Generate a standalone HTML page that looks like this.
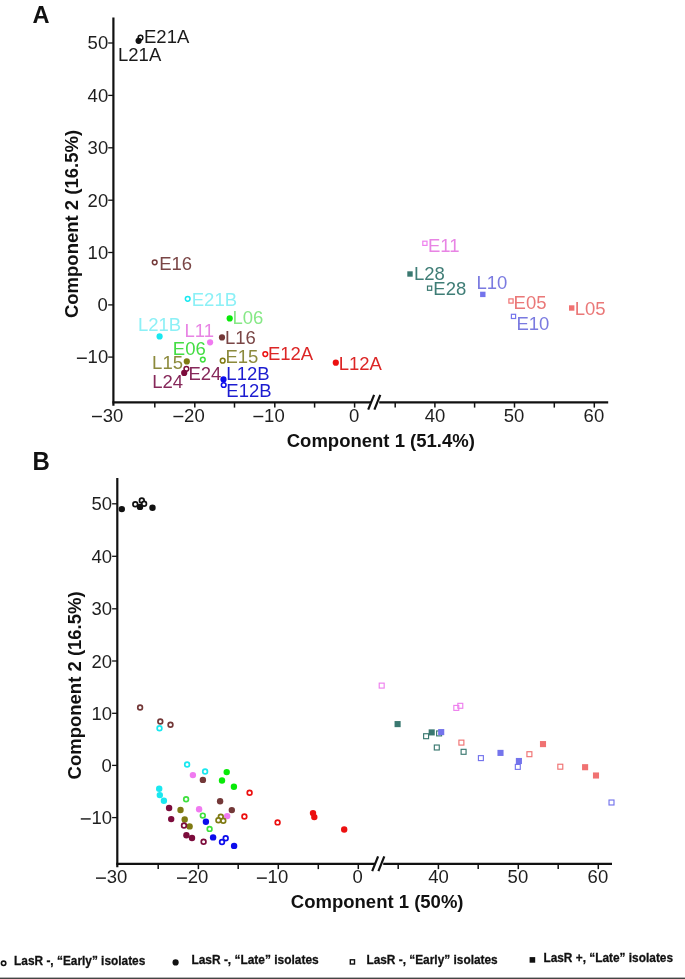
<!DOCTYPE html>
<html><head><meta charset="utf-8"><title>PCA</title>
<style>html,body{margin:0;padding:0;background:#fff;}svg{display:block;filter:blur(0.35px);}</style>
</head><body>
<svg width="685" height="979" viewBox="0 0 685 979" font-family='"Liberation Sans", sans-serif' font-size="18">
<rect width="685" height="979" fill="#fff"/>
<line x1="113.4" y1="17.5" x2="113.4" y2="405.8" stroke="#111111" stroke-width="2.2"/>
<line x1="112.4" y1="402.3" x2="371" y2="402.3" stroke="#111111" stroke-width="2.2"/>
<line x1="379.2" y1="402.3" x2="608.2" y2="402.3" stroke="#111111" stroke-width="2.2"/>
<line x1="368.2" y1="409.7" x2="374.1" y2="394.90000000000003" stroke="#111111" stroke-width="2.2"/>
<line x1="374.4" y1="409.7" x2="380.3" y2="394.90000000000003" stroke="#111111" stroke-width="2.2"/>
<line x1="154.8" y1="402.3" x2="154.8" y2="407.6" stroke="#111111" stroke-width="1.5"/>
<line x1="194.8" y1="402.3" x2="194.8" y2="407.6" stroke="#111111" stroke-width="1.5"/>
<line x1="234.5" y1="402.3" x2="234.5" y2="407.6" stroke="#111111" stroke-width="1.5"/>
<line x1="274.8" y1="402.3" x2="274.8" y2="407.6" stroke="#111111" stroke-width="1.5"/>
<line x1="314.6" y1="402.3" x2="314.6" y2="407.6" stroke="#111111" stroke-width="1.5"/>
<line x1="354.6" y1="402.3" x2="354.6" y2="407.6" stroke="#111111" stroke-width="1.5"/>
<line x1="395.2" y1="402.3" x2="395.2" y2="407.6" stroke="#111111" stroke-width="1.5"/>
<line x1="434.9" y1="402.3" x2="434.9" y2="407.6" stroke="#111111" stroke-width="1.5"/>
<line x1="474.6" y1="402.3" x2="474.6" y2="407.6" stroke="#111111" stroke-width="1.5"/>
<line x1="514.5" y1="402.3" x2="514.5" y2="407.6" stroke="#111111" stroke-width="1.5"/>
<line x1="554.3" y1="402.3" x2="554.3" y2="407.6" stroke="#111111" stroke-width="1.5"/>
<line x1="594.3" y1="402.3" x2="594.3" y2="407.6" stroke="#111111" stroke-width="1.5"/>
<line x1="108.2" y1="43.0" x2="113.4" y2="43.0" stroke="#111111" stroke-width="1.3"/>
<line x1="108.2" y1="95.4" x2="113.4" y2="95.4" stroke="#111111" stroke-width="1.3"/>
<line x1="108.2" y1="147.8" x2="113.4" y2="147.8" stroke="#111111" stroke-width="1.3"/>
<line x1="108.2" y1="200.2" x2="113.4" y2="200.2" stroke="#111111" stroke-width="1.3"/>
<line x1="108.2" y1="252.5" x2="113.4" y2="252.5" stroke="#111111" stroke-width="1.3"/>
<line x1="108.2" y1="304.9" x2="113.4" y2="304.9" stroke="#111111" stroke-width="1.3"/>
<line x1="108.2" y1="357.1" x2="113.4" y2="357.1" stroke="#111111" stroke-width="1.3"/>
<text x="102.70" y="421.70" fill="#1e1e1e" font-size="18.5">30</text>
<rect x="92.00" y="415.80" width="9.9" height="1.45" fill="#1e1e1e"/>
<text x="184.10" y="421.70" fill="#1e1e1e" font-size="18.5">20</text>
<rect x="173.40" y="415.80" width="9.9" height="1.45" fill="#1e1e1e"/>
<text x="264.10" y="421.70" fill="#1e1e1e" font-size="18.5">10</text>
<rect x="253.40" y="415.80" width="9.9" height="1.45" fill="#1e1e1e"/>
<text x="348.90" y="421.70" fill="#1e1e1e" font-size="18.5">0</text>
<text x="424.70" y="421.70" fill="#1e1e1e" font-size="18.5">40</text>
<text x="503.80" y="421.70" fill="#1e1e1e" font-size="18.5">50</text>
<text x="583.60" y="421.70" fill="#1e1e1e" font-size="18.5">60</text>
<text x="87.60" y="49.30" fill="#1e1e1e" font-size="18.5">50</text>
<text x="87.60" y="101.70" fill="#1e1e1e" font-size="18.5">40</text>
<text x="87.60" y="154.10" fill="#1e1e1e" font-size="18.5">30</text>
<text x="87.60" y="206.50" fill="#1e1e1e" font-size="18.5">20</text>
<text x="87.60" y="258.80" fill="#1e1e1e" font-size="18.5">10</text>
<text x="97.60" y="311.20" fill="#1e1e1e" font-size="18.5">0</text>
<text x="87.60" y="363.40" fill="#1e1e1e" font-size="18.5">10</text>
<rect x="76.90" y="357.50" width="9.9" height="1.45" fill="#1e1e1e"/>
<text x="32.6" y="22.9" fill="#111" font-size="23.6" font-weight="bold" text-anchor="start" >A</text>
<text x="380.8" y="447.0" fill="#111" font-size="18.5" font-weight="bold" text-anchor="middle" >Component 1 (51.4%)</text>
<text transform="translate(78.4,224) rotate(-90)" text-anchor="middle" fill="#111" font-size="18.5" font-weight="bold">Component 2 (16.5%)</text>
<circle cx="140.5" cy="37.7" r="2.35" fill="#fff" stroke="#111111" stroke-width="1.5"/>
<circle cx="138.6" cy="40.8" r="3.1" fill="#111111"/>
<circle cx="154.7" cy="262.3" r="2.35" fill="#fff" stroke="#733838" stroke-width="1.5"/>
<circle cx="187.7" cy="298.8" r="2.35" fill="#fff" stroke="#1ae8f0" stroke-width="1.5"/>
<circle cx="229.7" cy="318.4" r="3.1" fill="#08ea08"/>
<circle cx="159.6" cy="336.4" r="3.1" fill="#1ae8f0"/>
<circle cx="210.1" cy="342.3" r="3.1" fill="#f07af0"/>
<circle cx="222" cy="337.4" r="3.1" fill="#733838"/>
<circle cx="202.8" cy="359.6" r="2.35" fill="#fff" stroke="#3ee03e" stroke-width="1.5"/>
<circle cx="186.8" cy="361.4" r="3.1" fill="#7f7a12"/>
<circle cx="222.7" cy="360.7" r="2.35" fill="#fff" stroke="#7f7a12" stroke-width="1.5"/>
<circle cx="186.4" cy="368.8" r="2.35" fill="#fff" stroke="#7c0c3c" stroke-width="1.5"/>
<circle cx="184.2" cy="372.9" r="3.1" fill="#7c0c3c"/>
<circle cx="223.5" cy="379.4" r="3.1" fill="#0c0cec"/>
<circle cx="223.7" cy="385.0" r="2.35" fill="#fff" stroke="#0c0cec" stroke-width="1.5"/>
<circle cx="265.3" cy="354.1" r="2.35" fill="#fff" stroke="#ec1010" stroke-width="1.5"/>
<circle cx="335.8" cy="362.7" r="3.1" fill="#ec1010"/>
<rect x="422.80" y="241.20" width="4.20" height="4.20" fill="none" stroke="#ee80ee" stroke-width="1.2"/>
<rect x="407.30" y="271.30" width="5.4" height="5.4" fill="#3a7870"/>
<rect x="427.50" y="286.10" width="4.20" height="4.20" fill="none" stroke="#3a7870" stroke-width="1.2"/>
<rect x="480.10" y="291.70" width="5.4" height="5.4" fill="#7474ec"/>
<rect x="508.90" y="298.90" width="4.20" height="4.20" fill="none" stroke="#f07272" stroke-width="1.2"/>
<rect x="511.40" y="314.30" width="4.20" height="4.20" fill="none" stroke="#7474ec" stroke-width="1.2"/>
<rect x="569.00" y="305.30" width="5.4" height="5.4" fill="#f07272"/>
<text x="144.00" y="42.70" fill="#1a1a1a" font-size="18.5" font-weight="normal" text-anchor="start" >E21A</text>
<text x="118.05" y="60.95" fill="#1a1a1a" font-size="18.5" font-weight="normal" text-anchor="start" >L21A</text>
<text x="159.15" y="270.10" fill="#7a4646" font-size="18.5" font-weight="normal" text-anchor="start" >E16</text>
<text x="191.75" y="306.05" fill="#8cf0f6" font-size="18.5" font-weight="normal" text-anchor="start" >E21B</text>
<text x="232.50" y="324.20" fill="#86e886" font-size="18.5" font-weight="normal" text-anchor="start" >L06</text>
<text x="137.95" y="330.50" fill="#8cf0f6" font-size="18.5" font-weight="normal" text-anchor="start" >L21B</text>
<text x="184.50" y="336.75" fill="#e884e4" font-size="18.5" font-weight="normal" text-anchor="start" >L11</text>
<text x="225.00" y="343.60" fill="#7a4646" font-size="18.5" font-weight="normal" text-anchor="start" >L16</text>
<text x="172.85" y="355.10" fill="#44dd44" font-size="18.5" font-weight="normal" text-anchor="start" >E06</text>
<text x="152.10" y="368.95" fill="#8c8a3c" font-size="18.5" font-weight="normal" text-anchor="start" >L15</text>
<text x="188.45" y="380.15" fill="#86285a" font-size="18.5" font-weight="normal" text-anchor="start" >E24</text>
<text x="152.30" y="387.90" fill="#86285a" font-size="18.5" font-weight="normal" text-anchor="start" >L24</text>
<text x="225.45" y="363.05" fill="#8c8a3c" font-size="18.5" font-weight="normal" text-anchor="start" >E15</text>
<text x="226.35" y="380.25" fill="#1c1cd0" font-size="18.5" font-weight="normal" text-anchor="start" >L12B</text>
<text x="226.35" y="397.05" fill="#1c1cd0" font-size="18.5" font-weight="normal" text-anchor="start" >E12B</text>
<text x="267.90" y="360.00" fill="#dc2626" font-size="18.5" font-weight="normal" text-anchor="start" >E12A</text>
<text x="338.70" y="370.25" fill="#dc2626" font-size="18.5" font-weight="normal" text-anchor="start" >L12A</text>
<text x="427.95" y="251.55" fill="#e884e4" font-size="18.5" font-weight="normal" text-anchor="start" >E11</text>
<text x="413.90" y="280.25" fill="#3f7d76" font-size="18.5" font-weight="normal" text-anchor="start" >L28</text>
<text x="433.35" y="295.35" fill="#3f7d76" font-size="18.5" font-weight="normal" text-anchor="start" >E28</text>
<text x="476.50" y="288.95" fill="#7a7ae0" font-size="18.5" font-weight="normal" text-anchor="start" >L10</text>
<text x="513.55" y="308.95" fill="#ea7878" font-size="18.5" font-weight="normal" text-anchor="start" >E05</text>
<text x="516.45" y="330.40" fill="#7a7ae0" font-size="18.5" font-weight="normal" text-anchor="start" >E10</text>
<text x="574.65" y="314.85" fill="#ea7878" font-size="18.5" font-weight="normal" text-anchor="start" >L05</text>
<line x1="117.3" y1="478" x2="117.3" y2="867.3" stroke="#111111" stroke-width="2.2"/>
<line x1="116.3" y1="863.8" x2="375.0" y2="863.8" stroke="#111111" stroke-width="2.2"/>
<line x1="383.2" y1="863.8" x2="612" y2="863.8" stroke="#111111" stroke-width="2.2"/>
<line x1="372.2" y1="871.1999999999999" x2="378.1" y2="856.4" stroke="#111111" stroke-width="2.2"/>
<line x1="378.4" y1="871.1999999999999" x2="384.3" y2="856.4" stroke="#111111" stroke-width="2.2"/>
<line x1="158.2" y1="863.8" x2="158.2" y2="869.0999999999999" stroke="#111111" stroke-width="1.5"/>
<line x1="198.4" y1="863.8" x2="198.4" y2="869.0999999999999" stroke="#111111" stroke-width="1.5"/>
<line x1="238.2" y1="863.8" x2="238.2" y2="869.0999999999999" stroke="#111111" stroke-width="1.5"/>
<line x1="278.3" y1="863.8" x2="278.3" y2="869.0999999999999" stroke="#111111" stroke-width="1.5"/>
<line x1="318.3" y1="863.8" x2="318.3" y2="869.0999999999999" stroke="#111111" stroke-width="1.5"/>
<line x1="358.3" y1="863.8" x2="358.3" y2="869.0999999999999" stroke="#111111" stroke-width="1.5"/>
<line x1="398.2" y1="863.8" x2="398.2" y2="869.0999999999999" stroke="#111111" stroke-width="1.5"/>
<line x1="438.4" y1="863.8" x2="438.4" y2="869.0999999999999" stroke="#111111" stroke-width="1.5"/>
<line x1="478.2" y1="863.8" x2="478.2" y2="869.0999999999999" stroke="#111111" stroke-width="1.5"/>
<line x1="518.3" y1="863.8" x2="518.3" y2="869.0999999999999" stroke="#111111" stroke-width="1.5"/>
<line x1="558.2" y1="863.8" x2="558.2" y2="869.0999999999999" stroke="#111111" stroke-width="1.5"/>
<line x1="598.3" y1="863.8" x2="598.3" y2="869.0999999999999" stroke="#111111" stroke-width="1.5"/>
<line x1="112.1" y1="503.8" x2="117.3" y2="503.8" stroke="#111111" stroke-width="1.3"/>
<line x1="112.1" y1="556.3" x2="117.3" y2="556.3" stroke="#111111" stroke-width="1.3"/>
<line x1="112.1" y1="608.8" x2="117.3" y2="608.8" stroke="#111111" stroke-width="1.3"/>
<line x1="112.1" y1="661.0" x2="117.3" y2="661.0" stroke="#111111" stroke-width="1.3"/>
<line x1="112.1" y1="713.3" x2="117.3" y2="713.3" stroke="#111111" stroke-width="1.3"/>
<line x1="112.1" y1="765.4" x2="117.3" y2="765.4" stroke="#111111" stroke-width="1.3"/>
<line x1="112.1" y1="817.6" x2="117.3" y2="817.6" stroke="#111111" stroke-width="1.3"/>
<text x="106.70" y="883.30" fill="#1e1e1e" font-size="18.5">30</text>
<rect x="96.00" y="877.40" width="9.9" height="1.45" fill="#1e1e1e"/>
<text x="187.70" y="883.30" fill="#1e1e1e" font-size="18.5">20</text>
<rect x="177.00" y="877.40" width="9.9" height="1.45" fill="#1e1e1e"/>
<text x="267.60" y="883.30" fill="#1e1e1e" font-size="18.5">10</text>
<rect x="256.90" y="877.40" width="9.9" height="1.45" fill="#1e1e1e"/>
<text x="352.60" y="883.30" fill="#1e1e1e" font-size="18.5">0</text>
<text x="428.20" y="883.30" fill="#1e1e1e" font-size="18.5">40</text>
<text x="507.60" y="883.30" fill="#1e1e1e" font-size="18.5">50</text>
<text x="587.60" y="883.30" fill="#1e1e1e" font-size="18.5">60</text>
<text x="91.50" y="510.30" fill="#1e1e1e" font-size="18.5">50</text>
<text x="91.50" y="562.80" fill="#1e1e1e" font-size="18.5">40</text>
<text x="91.50" y="615.30" fill="#1e1e1e" font-size="18.5">30</text>
<text x="91.50" y="667.50" fill="#1e1e1e" font-size="18.5">20</text>
<text x="91.50" y="719.80" fill="#1e1e1e" font-size="18.5">10</text>
<text x="101.50" y="771.90" fill="#1e1e1e" font-size="18.5">0</text>
<text x="91.50" y="824.10" fill="#1e1e1e" font-size="18.5">10</text>
<rect x="80.80" y="818.20" width="9.9" height="1.45" fill="#1e1e1e"/>
<text transform="translate(32.6,469.7) scale(0.975,1.05)" fill="#111" font-size="24.6" font-weight="bold">B</text>
<text x="377.2" y="908.0" fill="#111" font-size="18.5" font-weight="bold" text-anchor="middle" >Component 1 (50%)</text>
<text transform="translate(81.4,685.4) rotate(-90)" text-anchor="middle" fill="#111" font-size="18.5" font-weight="bold">Component 2 (16.5%)</text>
<circle cx="121.8" cy="509.1" r="3.2" fill="#111111"/>
<circle cx="140.0" cy="506.9" r="3.2" fill="#111111"/>
<circle cx="152.5" cy="507.8" r="3.2" fill="#111111"/>
<circle cx="135.3" cy="504.3" r="2.35" fill="#fff" stroke="#111111" stroke-width="1.7"/>
<circle cx="141.8" cy="500.5" r="2.35" fill="#fff" stroke="#111111" stroke-width="1.7"/>
<circle cx="144.1" cy="503.7" r="2.35" fill="#fff" stroke="#111111" stroke-width="1.7"/>
<circle cx="140.1" cy="707.5" r="2.35" fill="#fff" stroke="#733838" stroke-width="1.7"/>
<circle cx="160.3" cy="721.5" r="2.35" fill="#fff" stroke="#733838" stroke-width="1.7"/>
<circle cx="170.5" cy="724.7" r="2.35" fill="#fff" stroke="#733838" stroke-width="1.7"/>
<circle cx="159.5" cy="728.2" r="2.35" fill="#fff" stroke="#1ae8f0" stroke-width="1.7"/>
<circle cx="187.1" cy="764.5" r="2.35" fill="#fff" stroke="#1ae8f0" stroke-width="1.7"/>
<circle cx="205.1" cy="771.5" r="2.35" fill="#fff" stroke="#1ae8f0" stroke-width="1.7"/>
<circle cx="192.9" cy="775.1" r="3.2" fill="#f07af0"/>
<circle cx="199.1" cy="809.3" r="3.2" fill="#f07af0"/>
<circle cx="227.2" cy="816.1" r="3.2" fill="#f07af0"/>
<circle cx="202.9" cy="779.9" r="3.2" fill="#733838"/>
<circle cx="220.1" cy="801.3" r="3.2" fill="#733838"/>
<circle cx="231.8" cy="810.1" r="3.2" fill="#733838"/>
<circle cx="226.7" cy="772.1" r="3.2" fill="#08ea08"/>
<circle cx="222.0" cy="780.5" r="3.2" fill="#08ea08"/>
<circle cx="233.9" cy="786.7" r="3.2" fill="#08ea08"/>
<circle cx="159.2" cy="788.7" r="3.2" fill="#1ae8f0"/>
<circle cx="159.8" cy="795.1" r="3.2" fill="#1ae8f0"/>
<circle cx="163.9" cy="800.7" r="3.2" fill="#1ae8f0"/>
<circle cx="186.1" cy="799.2" r="2.35" fill="#fff" stroke="#3ee03e" stroke-width="1.7"/>
<circle cx="202.8" cy="815.6" r="2.35" fill="#fff" stroke="#3ee03e" stroke-width="1.7"/>
<circle cx="209.6" cy="828.9" r="2.35" fill="#fff" stroke="#3ee03e" stroke-width="1.7"/>
<circle cx="169.1" cy="808.0" r="3.2" fill="#7c0c3c"/>
<circle cx="171.2" cy="819.1" r="3.2" fill="#7c0c3c"/>
<circle cx="186.4" cy="835.2" r="3.2" fill="#7c0c3c"/>
<circle cx="192.0" cy="838.0" r="3.2" fill="#7c0c3c"/>
<circle cx="180.5" cy="810.0" r="3.2" fill="#7f7a12"/>
<circle cx="184.7" cy="819.5" r="3.2" fill="#7f7a12"/>
<circle cx="189.6" cy="826.4" r="3.2" fill="#7f7a12"/>
<circle cx="184.0" cy="825.5" r="2.35" fill="#fff" stroke="#7c0c3c" stroke-width="1.7"/>
<circle cx="203.6" cy="841.8" r="2.35" fill="#fff" stroke="#7c0c3c" stroke-width="1.7"/>
<circle cx="205.9" cy="821.8" r="3.2" fill="#0c0cec"/>
<circle cx="213.1" cy="837.4" r="3.2" fill="#0c0cec"/>
<circle cx="234.1" cy="845.9" r="3.2" fill="#0c0cec"/>
<circle cx="220.8" cy="816.7" r="2.35" fill="#fff" stroke="#7f7a12" stroke-width="1.7"/>
<circle cx="218.4" cy="820.3" r="2.35" fill="#fff" stroke="#7f7a12" stroke-width="1.7"/>
<circle cx="223.3" cy="820.8" r="2.35" fill="#fff" stroke="#7f7a12" stroke-width="1.7"/>
<circle cx="225.7" cy="838.3" r="2.35" fill="#fff" stroke="#0c0cec" stroke-width="1.7"/>
<circle cx="222.0" cy="842.0" r="2.35" fill="#fff" stroke="#0c0cec" stroke-width="1.7"/>
<circle cx="249.6" cy="792.8" r="2.35" fill="#fff" stroke="#ec1010" stroke-width="1.7"/>
<circle cx="244.4" cy="816.5" r="2.35" fill="#fff" stroke="#ec1010" stroke-width="1.7"/>
<circle cx="277.6" cy="822.4" r="2.35" fill="#fff" stroke="#ec1010" stroke-width="1.7"/>
<circle cx="313.0" cy="813.1" r="3.2" fill="#ec1010"/>
<circle cx="314.3" cy="817.1" r="3.2" fill="#ec1010"/>
<circle cx="344.2" cy="829.5" r="3.2" fill="#ec1010"/>
<rect x="379.22" y="683.13" width="4.95" height="4.95" fill="none" stroke="#ee80ee" stroke-width="1.15"/>
<rect x="453.82" y="705.43" width="4.95" height="4.95" fill="none" stroke="#ee80ee" stroke-width="1.15"/>
<rect x="457.82" y="703.33" width="4.95" height="4.95" fill="none" stroke="#ee80ee" stroke-width="1.15"/>
<rect x="394.55" y="721.05" width="6.1" height="6.1" fill="#3a7870"/>
<rect x="423.62" y="733.73" width="4.95" height="4.95" fill="none" stroke="#3a7870" stroke-width="1.15"/>
<rect x="436.62" y="730.93" width="4.95" height="4.95" fill="none" stroke="#3a7870" stroke-width="1.15"/>
<rect x="428.65" y="729.35" width="6.1" height="6.1" fill="#3a7870"/>
<rect x="434.32" y="745.03" width="4.95" height="4.95" fill="none" stroke="#3a7870" stroke-width="1.15"/>
<rect x="461.12" y="749.33" width="4.95" height="4.95" fill="none" stroke="#3a7870" stroke-width="1.15"/>
<rect x="438.15" y="729.05" width="6.1" height="6.1" fill="#7474ec"/>
<rect x="497.45" y="749.85" width="6.1" height="6.1" fill="#7474ec"/>
<rect x="515.85" y="757.95" width="6.1" height="6.1" fill="#7474ec"/>
<rect x="478.42" y="755.63" width="4.95" height="4.95" fill="none" stroke="#7474ec" stroke-width="1.15"/>
<rect x="515.33" y="764.43" width="4.95" height="4.95" fill="none" stroke="#7474ec" stroke-width="1.15"/>
<rect x="609.03" y="800.03" width="4.95" height="4.95" fill="none" stroke="#7474ec" stroke-width="1.15"/>
<rect x="458.92" y="740.13" width="4.95" height="4.95" fill="none" stroke="#f07272" stroke-width="1.15"/>
<rect x="526.93" y="751.73" width="4.95" height="4.95" fill="none" stroke="#f07272" stroke-width="1.15"/>
<rect x="557.83" y="764.23" width="4.95" height="4.95" fill="none" stroke="#f07272" stroke-width="1.15"/>
<rect x="539.95" y="741.05" width="6.1" height="6.1" fill="#f07272"/>
<rect x="582.05" y="764.15" width="6.1" height="6.1" fill="#f07272"/>
<rect x="592.95" y="772.45" width="6.1" height="6.1" fill="#f07272"/>
<circle cx="3.6" cy="963.3" r="2.20" fill="#fff" stroke="#111" stroke-width="1.6"/>
<text transform="translate(14.1,965.0) scale(0.899,1)" fill="#111" stroke="#111" stroke-width="0.3" font-size="13.2" font-weight="bold">LasR -, “Early” isolates</text>
<circle cx="175.6" cy="962.4" r="3.1" fill="#111"/>
<text transform="translate(191.4,964.3) scale(0.904,1)" fill="#111" stroke="#111" stroke-width="0.3" font-size="13.2" font-weight="bold">LasR -, “Late” isolates</text>
<rect x="350.30" y="959.80" width="4.20" height="4.20" fill="none" stroke="#111" stroke-width="1.4"/>
<text transform="translate(366.4,964.3) scale(0.90,1)" fill="#111" stroke="#111" stroke-width="0.3" font-size="13.2" font-weight="bold">LasR -, “Early” isolates</text>
<rect x="529.60" y="957.10" width="5.6" height="5.6" fill="#111"/>
<text transform="translate(543.4,961.6) scale(0.90,1)" fill="#111" stroke="#111" stroke-width="0.3" font-size="13.2" font-weight="bold">LasR +, “Late” isolates</text>
<rect x="0" y="977.6" width="685" height="1.4" fill="#444"/>
</svg>
</body></html>
